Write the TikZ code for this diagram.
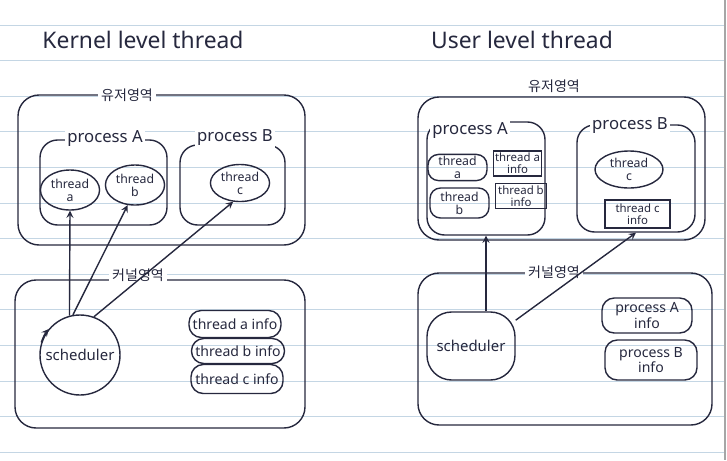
\documentclass[tikz,border=0pt]{standalone}
\usepackage{fontspec}
\setmainfont{Noto Sans}
\newfontfamily\krfont{Noto Sans CJK KR}
\usetikzlibrary{shapes.geometric, arrows, positioning, calc}
\definecolor{pen}{RGB}{38, 40, 62}
\definecolor{paper}{RGB}{196, 214, 228}

\begin{document}
\begin{tikzpicture}
    \tikzstyle{area} = [draw=pen, line width=0.8pt, rounded corners=12pt]
    \tikzstyle{proc} = [draw=pen, line width=0.8pt, rounded corners=10pt]
    \tikzstyle{thr} = [ellipse, draw=pen, line width=0.8pt, inner sep=1pt, text=pen, align=center, font=\fontsize{7}{7.5}\selectfont]
    \tikzstyle{tbox} = [rectangle, draw=pen, line width=0.8pt, rounded corners=6pt, inner sep=1pt, text=pen, align=center, font=\fontsize{7}{7.5}\selectfont]
    \tikzstyle{tinfo} = [rectangle, draw=pen, line width=0.8pt, inner sep=1pt, text=pen, align=center, font=\fontsize{6.5}{7}\selectfont]
    \tikzstyle{info} = [rectangle, draw=pen, line width=0.8pt, rounded corners=7pt, inner sep=1pt, text=pen, align=center, font=\fontsize{8}{9}\selectfont]
    \tikzstyle{sched} = [circle, draw=pen, line width=0.8pt, inner sep=1pt, text=pen, font=\fontsize{8.5}{9}\selectfont]
    \tikzstyle{plbl} = [fill=white, inner sep=1.5pt, text=pen, font=\fontsize{9.5}{10}\selectfont]
    \tikzstyle{krlbl} = [fill=white, inner sep=1.5pt, text=pen, font=\krfont\fontsize{8}{9}\selectfont]
    \tikzstyle{ttl} = [text=pen, font=\fontsize{13}{15}\selectfont]
    \tikzstyle{arrow} = [line width=0.8pt, pen, ->, >=stealth]

    \useasboundingbox (0,0) rectangle (14.54,-9.2);
    % lined paper
    \foreach \k in {0,...,12}
        \draw[paper, line width=0.5pt] (0,{-0.5-0.712*\k}) -- (14.5,{-0.5-0.712*\k});
    \draw[gray!70, line width=0.6pt] (14.5,0) -- (14.5,-9.2);

    % kernel level thread
    \node[ttl] (ttlL) at (2.86,-0.80) {Kernel level thread};

    \node[area, minimum width=5.74cm, minimum height=3.0cm] (userL) at (3.23,-3.40) {};
    \node[krlbl] (userLlbl) at (2.54,-1.90) {유저영역};
    \node[proc, minimum width=2.54cm, minimum height=1.7cm] (procAL) at (2.07,-3.65) {};
    \node[plbl] (procALlbl) at (2.10,-2.78) {process A};
    \node[proc, minimum width=2.1cm, minimum height=1.6cm] (procBL) at (4.65,-3.70) {};
    \node[plbl] (procBLlbl) at (4.70,-2.76) {process B};
    \node[thr, minimum width=1.1cm, minimum height=0.8cm] (thrAL) at (1.40,-3.80) {thread\\a};
    \node[thr, minimum width=1.1cm, minimum height=0.8cm] (thrBL) at (2.70,-3.70) {thread\\b};
    \node[thr, minimum width=1.1cm, minimum height=0.72cm] (thrCL) at (4.80,-3.66) {thread\\c};

    \node[area, minimum width=5.8cm, minimum height=2.96cm] (kernL) at (3.20,-7.08) {};
    \node[krlbl] (kernLlbl) at (2.76,-5.50) {커널영역};
    \node[sched, minimum size=1.6cm] (schedL) at (1.60,-7.10) {scheduler};
    \node[info, minimum width=1.84cm, minimum height=0.54cm] (infoAL) at (4.70,-6.48) {thread a info};
    \node[info, minimum width=1.86cm, minimum height=0.5cm] (infoBL) at (4.76,-7.02) {thread b info};
    \node[info, minimum width=1.84cm, minimum height=0.58cm] (infoCL) at (4.74,-7.58) {thread c info};

    \draw[arrow] (schedL.105) -- (thrAL.south);
    \draw[arrow] (schedL.100) -- (thrBL.250);
    \draw[arrow] (schedL.70) -- (thrCL.250);
    \draw[arrow] (schedL.162) arc[start angle=162, end angle=140, radius=0.8cm];

    % user level thread
    \node[ttl] (ttlR) at (10.44,-0.80) {User level thread};

    \node[area, minimum width=5.74cm, minimum height=2.86cm] (userR) at (11.23,-3.37) {};
    \node[krlbl] (userRlbl) at (11.08,-1.72) {유저영역};
    \node[proc, minimum width=2.36cm, minimum height=2.26cm] (procAR) at (9.72,-3.57) {};
    \node[plbl] (procARlbl) at (9.40,-2.62) {process A};
    \node[proc, minimum width=2.36cm, minimum height=2.14cm] (procBR) at (12.72,-3.57) {};
    \node[plbl] (procBRlbl) at (12.60,-2.52) {process B};
    \node[tbox, minimum width=1.18cm, minimum height=0.5cm] (thrAR) at (9.15,-3.35) {thread\\a};
    \node[tinfo, minimum width=0.9cm, minimum height=0.46cm] (infAR) at (10.35,-3.27) {thread a\\info};
    \node[tbox, minimum width=1.18cm, minimum height=0.6cm] (thrBR) at (9.19,-4.06) {thread\\b};
    \node[tinfo, minimum width=1.02cm, minimum height=0.44cm] (infBR) at (10.42,-3.92) {thread b\\info};
    \node[thr, minimum width=1.36cm, minimum height=0.7cm] (thrCR) at (12.58,-3.39) {thread\\c};
    \node[tinfo, minimum width=1.3cm, minimum height=0.56cm] (infCR) at (12.75,-4.28) {thread c\\info};

    \node[area, minimum width=5.88cm, minimum height=3.04cm] (kernR) at (11.30,-6.98) {};
    \node[krlbl] (kernRlbl) at (11.08,-5.44) {커널영역};
    \node[info, rounded corners=14pt, minimum width=1.76cm, minimum height=1.36cm, font=\fontsize{8.5}{9}\selectfont] (schedR) at (9.42,-6.92) {scheduler};
    \node[info, minimum width=1.8cm, minimum height=0.7cm] (infoAR) at (12.94,-6.31) {process A\\info};
    \node[info, minimum width=1.84cm, minimum height=0.8cm] (infoBR) at (13.02,-7.20) {process B\\info};

    \draw[arrow] (procAR.south |- schedR.north) -- (procAR.south);
    \draw[arrow] (schedR.30) -- (procBR.south);
\end{tikzpicture}
\end{document}
